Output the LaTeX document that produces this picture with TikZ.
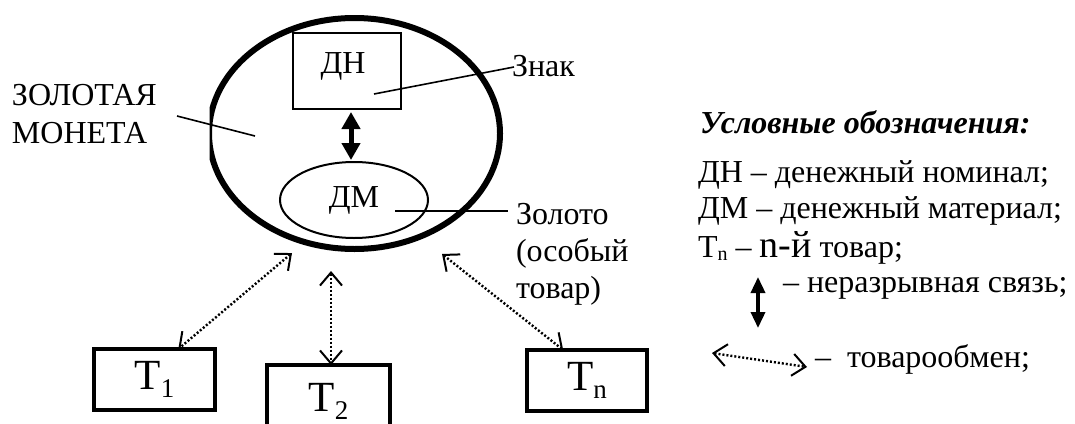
\documentclass[tikz,border=0pt]{standalone}
\usepackage{fontspec}
\setmainfont{Liberation Serif}
\usetikzlibrary{arrows.meta,shapes.geometric}
\newcommand\subtext[3]{\raisebox{-#1}{\fontsize{#2}{#2}\selectfont #3}}
\begin{document}
\begin{tikzpicture}[x=1pt,y=-1pt,
  every node/.style={inner sep=0pt,outer sep=0pt,font=\fontsize{32}{37}\selectfont},
  lead/.style={line width=1.6pt},
  tbox/.style={draw,line width=4.5pt,rectangle,font=\fontsize{43}{43}\selectfont},
  thickarr/.style={line width=5pt,{Triangle[length=17pt,width=18pt]}-{Triangle[length=17pt,width=18pt]}},
  legarr/.style={line width=3.5pt,{Triangle[length=16pt,width=14pt]}-{Triangle[length=16pt,width=14pt]}},
  dotarr/.style={line width=2.4pt,dash pattern=on 2pt off 2pt,
     {Straight Barb[length=13pt,width=22pt,line width=2pt]}-{Straight Barb[length=13pt,width=22pt,line width=2pt]}},
  txt/.style={anchor=base west}]
\useasboundingbox (0,0) rectangle (1075,423);
\clip (0,0) rectangle (1075,423);

% outer coin ellipse (left side cut flat)
\begin{scope}
  \clip (209.5,0) rectangle (1075,423);
  \node[draw,ellipse,line width=6pt,minimum width=291pt,minimum height=231pt] (coin) at (354.5,133.5) {};
\end{scope}

% inner elements
\node[draw,rectangle,line width=2pt,minimum width=108pt,minimum height=76pt] (dn) at (347,71) {};
\node[anchor=base] (dntext) at (343,73) {ДН};
\node[draw,ellipse,line width=2pt,minimum width=148pt,minimum height=76pt] (dm) at (354,200) {ДМ};
\draw[thickarr] (351,112) coordinate (ta1) -- (351,160) coordinate (ta2);

% labels
\node[txt] (zol1) at (12,105) {ЗОЛОТАЯ};
\node[txt] (zol2) at (12,143) {МОНЕТА};
\coordinate (zl1) at (177,116);
\coordinate (zl2) at (255,136);
\draw[lead] (zl1) -- (zl2);

\node[txt] (znak) at (512,76) {Знак};
\coordinate (zn1) at (374,94);
\coordinate (zn2) at (514,67);
\draw[lead] (zn1) -- (zn2);

\node[txt] (gold1) at (516,224) {Золото};
\node[txt] (gold2) at (516,261) {(особый};
\node[txt] (gold3) at (516,298) {товар)};
\coordinate (g1) at (395,211);
\coordinate (g2) at (508,211);
\draw[lead] (g1) -- (g2);

% goods boxes
\node[tbox,minimum width=121pt,minimum height=61pt] (t1) at (154.5,379.5) {Т\subtext{8pt}{27}{1}};
\node[tbox,minimum width=123pt,minimum height=72pt] (t2) at (328.5,401) {Т\subtext{8pt}{27}{2}};
\node[tbox,minimum width=120pt,minimum height=61pt] (tn) at (587,380.5) {Т\subtext{8pt}{27}{n}};

\coordinate (a1) at (292,253);
\coordinate (a2) at (331,271);
\coordinate (a3) at (442,254);
\draw[dotarr] (a1) -- (t1.52);
\draw[dotarr] (a2) -- (a2 |- t2.north);
\draw[dotarr] (a3) -- (tn.128);

% legend
\node[txt,font=\fontsize{32}{37}\selectfont\bfseries\itshape] (leg) at (700,133) {Условные обозначения:};
\node[txt] (l1) at (698,182) {ДН – денежный номинал;};
\node[txt] (l2) at (698,218) {ДМ – денежный материал;};
\node[txt] (l3) at (698,257) {Т\subtext{3pt}{20}{n} – {\fontsize{38}{38}\selectfont n-й} товар;};
\coordinate (la1) at (758,277);
\coordinate (la2) at (758,328);
\draw[legarr] (la1) -- (la2);
\node[txt] (l4) at (783,292) {– неразрывная связь;};
\coordinate (ld1) at (712,353);
\coordinate (ld2) at (807,367);
\draw[dotarr] (ld1) -- (ld2);
\node[txt] (l5) at (815,367) {–\ \ товарообмен;};
\end{tikzpicture}
\end{document}
